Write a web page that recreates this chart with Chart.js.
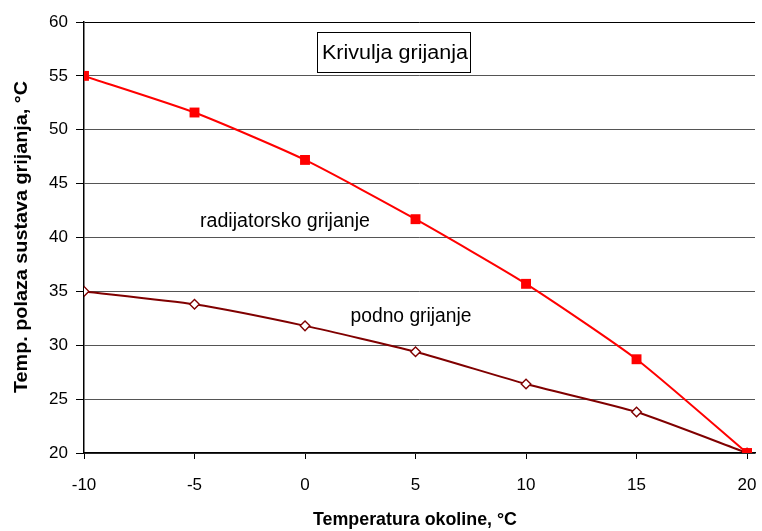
<!DOCTYPE html>
<html><head><meta charset="utf-8">
<script src="https://cdn.jsdelivr.net/npm/chart.js@4"></script>
<style>html,body{margin:0;padding:0;background:#fff}#wrap{width:762px;height:531px}</style>
</head><body><div id="wrap"><canvas id="c" width="762" height="531"></canvas></div>
<script>
const outdoorTemp = [-10, -5, 0, 5, 10, 15, 20];
const radiatorTemp = [55.0, 51.6, 47.2, 41.7, 35.7, 28.7, 20.0];
const floorTemp = [35.0, 33.8, 31.8, 29.4, 26.4, 23.8, 20.0];
const xTicks = [-10, -5, 0, 5, 10, 15, 20];
const yTicks = [20, 25, 30, 35, 40, 45, 50, 55, 60];
const chartTitle = 'Krivulja grijanja';
const xTitle = 'Temperatura okoline, °C';
const yTitle = 'Temp. polaza sustava grijanja, °C';
const radiatorLabel = 'radijatorsko grijanje';
const floorLabel = 'podno grijanje';

const FONT = '"Liberation Sans", Arial, sans-serif';

function fitText(ctx, text, x, y, targetW, size, weight) {
  ctx.font = (weight || '') + ' ' + size + 'px ' + FONT;
  const w = ctx.measureText(text).width;
  ctx.save();
  ctx.translate(x, y);
  ctx.scale(targetW / w, 1);
  ctx.fillText(text, 0, 0);
  ctx.restore();
}

const annot = {
  id: 'annot',
  afterDraw(chart) {
    const ctx = chart.ctx;
    ctx.save();
    ctx.fillStyle = '#fff';
    ctx.fillRect(317, 32, 153, 40);
    ctx.strokeStyle = '#000';
    ctx.lineWidth = 1;
    ctx.strokeRect(317.5, 32.5, 153, 40);
    ctx.fillStyle = '#000';
    ctx.textAlign = 'center';
    ctx.textBaseline = 'middle';
    fitText(ctx, chartTitle, 395, 53, 146, 20, '');
    fitText(ctx, radiatorLabel, 285, 221, 170, 20, '');
    fitText(ctx, floorLabel, 411, 316, 121, 20, '');
    fitText(ctx, xTitle, 415, 520, 204, 19, 'bold');
    ctx.translate(22, 237);
    ctx.rotate(-Math.PI/2);
    fitText(ctx, yTitle, 0, 0, 312, 19, 'bold');
    ctx.restore();
  }
};

new Chart(document.getElementById('c'), {
  type: 'line',
  data: {
    datasets: [
      {
        label: radiatorLabel,
        data: outdoorTemp.map((x, i) => ({x, y: radiatorTemp[i]})),
        borderColor: '#ff0000',
        backgroundColor: '#ff0000',
        borderWidth: 2,
        pointStyle: 'rect',
        pointRadius: 7,
        pointBorderWidth: 0,
        pointBackgroundColor: '#ff0000',
        tension: 0.2
      },
      {
        label: floorLabel,
        data: outdoorTemp.map((x, i) => ({x, y: floorTemp[i]})),
        borderColor: '#800000',
        backgroundColor: '#ffffff',
        borderWidth: 2,
        pointStyle: 'rectRot',
        pointRadius: 4.8,
        pointBorderWidth: 1.4,
        pointBorderColor: '#800000',
        pointBackgroundColor: '#ffffff',
        tension: 0.2
      }
    ]
  },
  options: {
    responsive: false,
    animation: false,
    layout: { padding: { left: 0, right: 0, top: 22, bottom: 0 } },
    plugins: { legend: { display: false }, tooltip: { enabled: false } },
    scales: {
      x: {
        type: 'linear',
        min: -10, max: 20.36,
        afterBuildTicks: (axis) => { axis.ticks = xTicks.map(v => ({value: v})); },
        afterFit: (scale) => { scale.height = 78; scale.paddingLeft = 0; scale.paddingRight = 0; },
        border: { display: true, color: '#000', width: 1.5 },
        grid: { drawOnChartArea: false, drawTicks: true, tickLength: 6, color: '#000' },
        ticks: { color: '#000', font: { family: FONT, size: 17 }, padding: 16, maxRotation: 0, autoSkip: false }
      },
      y: {
        min: 20, max: 60,
        afterBuildTicks: (axis) => { axis.ticks = yTicks.map(v => ({value: v})); },
        afterFit: (scale) => { scale.width = 84; scale.paddingTop = 0; scale.paddingBottom = 0; },
        border: { display: true, color: '#000', width: 1.5 },
        grid: { color: (c) => c.tick && c.tick.value === 60 ? '#000' : '#555', lineWidth: 1, tickLength: 8, tickColor: '#000' },
        ticks: { color: '#000', font: { family: FONT, size: 17 }, padding: 8 }
      }
    }
  },
  plugins: [annot]
});
</script>
</body></html>
